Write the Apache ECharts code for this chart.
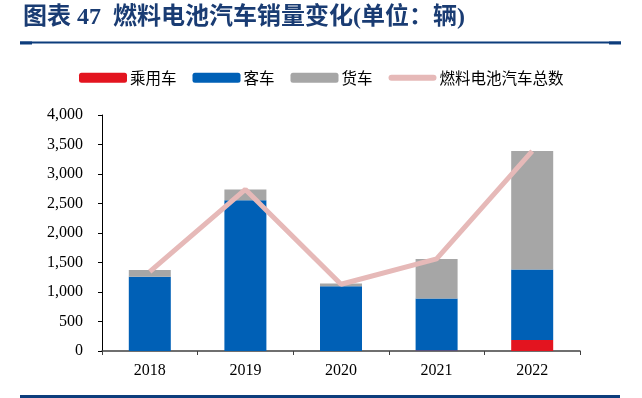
<!DOCTYPE html>
<html>
<head>
<meta charset="utf-8">
<script src="https://cdn.jsdelivr.net/npm/echarts@6/dist/echarts.min.js"></script>
<style>
  html, body { margin: 0; padding: 0; background: #fff; }
  #chart { width: 642px; height: 398px; }
</style>
</head>
<body>
<div id="chart"></div>
<script>
const years = ['2018', '2019', '2020', '2021', '2022']
const passengerCars = [0, 0, 0, 8, 185]
const buses = [1260, 2557, 1097, 880, 1195]
const trucks = [113, 181, 46, 673, 2009]
const totalFcv = [1345, 2738, 1131, 1561, 3389]

const seriesNames = ['乘用车', '客车', '货车', '燃料电池汽车总数']
const titleText = '图表 47  燃料电池汽车销量变化(单位：辆)'

const serif = '"Liberation Serif", "Noto Sans CJK SC", serif'
const navy = '#0d3d7c'

const chart = echarts.init(document.getElementById('chart'), null, { renderer: 'canvas' })

chart.setOption({
  animation: false,
  title: {
    text: titleText,
    left: 18,
    top: 1,
    textStyle: { color: '#1a3c73', fontFamily: serif, fontWeight: 'bold', fontSize: 24 },
  },
  graphic: [
    { type: 'rect', shape: { x: 20, y: 41.5, width: 601, height: 2 }, style: { fill: navy } },
    { type: 'rect', shape: { x: 20, y: 41.5, width: 12, height: 3 }, style: { fill: navy } },
    { type: 'rect', shape: { x: 609, y: 41.5, width: 12, height: 3 }, style: { fill: navy } },
    { type: 'rect', shape: { x: 20, y: 395, width: 600, height: 3 }, style: { fill: navy } },
  ],
  legend: {
    left: 74,
    top: 65,
    itemWidth: 48,
    itemHeight: 10,
    itemGap: 16,
    textStyle: { color: '#000', fontFamily: '"Noto Sans CJK SC", sans-serif', fontSize: 15.5, padding: [0, 0, 0, -2] },
    data: [
      { name: seriesNames[0], icon: 'roundRect' },
      { name: seriesNames[1], icon: 'roundRect' },
      { name: seriesNames[2], icon: 'roundRect' },
      { name: seriesNames[3], icon: 'path://M3,0 H45 A3,3 0 0 1 45,6 H3 A3,3 0 0 1 3,0 Z' },
    ],
  },
  grid: { left: 102, right: 62, top: 115, bottom: 47 },
  xAxis: {
    type: 'category',
    data: years,
    axisLine: { lineStyle: { color: '#404040', width: 1.5 } },
    axisTick: { show: true, length: 4, lineStyle: { color: '#404040' } },
    axisLabel: { color: '#000', fontFamily: serif, fontSize: 16, margin: 12 },
  },
  yAxis: {
    type: 'value',
    min: 0,
    max: 4000,
    interval: 500,
    axisLine: { show: true, lineStyle: { color: '#000', width: 1 } },
    axisTick: { show: true, length: 4, lineStyle: { color: '#000' } },
    splitLine: { show: false },
    axisLabel: {
      color: '#000',
      fontFamily: serif,
      fontSize: 16,
      margin: 19,
      formatter: v => v.toLocaleString('en-US'),
    },
  },
  series: [
    { name: seriesNames[0], type: 'bar', stack: 'fcv', barWidth: 42, data: passengerCars, itemStyle: { color: '#e3141f' } },
    { name: seriesNames[1], type: 'bar', stack: 'fcv', barWidth: 42, data: buses, itemStyle: { color: '#0060b6' } },
    { name: seriesNames[2], type: 'bar', stack: 'fcv', barWidth: 42, data: trucks, itemStyle: { color: '#a6a6a6' } },
    {
      name: seriesNames[3],
      type: 'line',
      data: totalFcv,
      symbol: 'none',
      z: 5,
      lineStyle: { color: '#e6b9b8', width: 5 },
      itemStyle: { color: '#e6b9b8' },
    },
  ],
})
</script>
</body>
</html>
